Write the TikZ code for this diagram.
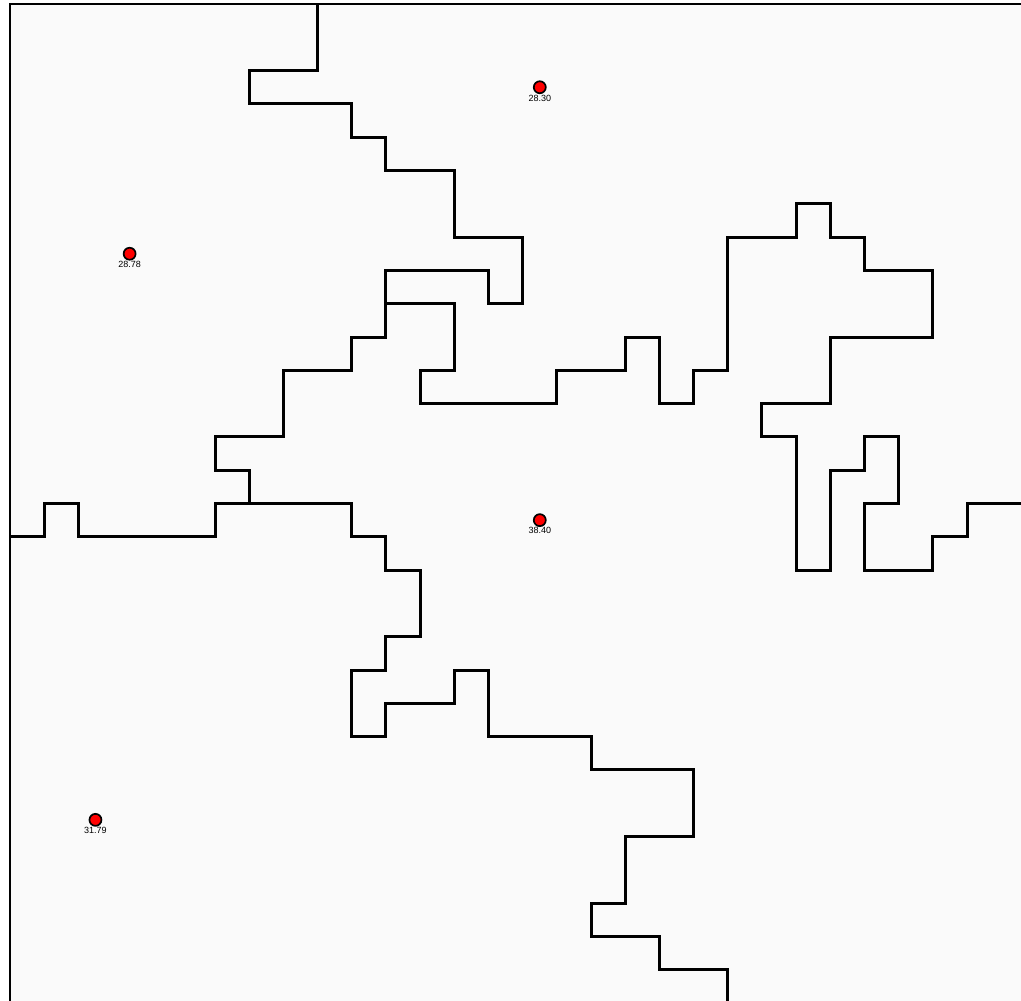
\documentclass[tikz,border=0pt]{standalone}
\usepackage{fontspec}
\newfontfamily\lblfont{Liberation Sans}
\usetikzlibrary{positioning}
\definecolor{bgGray}{RGB}{250,250,250}
\definecolor{siteRed}{RGB}{255,0,0}

\begin{document}
\begin{tikzpicture}[
    x=34.18pt, y=-33.3pt,
    wall/.style={line width=3pt, black, line join=miter},
    frame/.style={line width=2.4pt, black},
    site/.style={circle, fill=siteRed, draw=black, line width=1.7pt, inner sep=0pt, minimum size=12pt},
    lbl/.style={font=\lblfont\fontsize{9}{10}\selectfont, inner sep=0pt},
]
\useasboundingbox (-10pt,4pt) rectangle (1011pt,-997pt);
\fill[white] (-10pt,4pt) rectangle (1011pt,-997pt);
\clip (-10pt,4pt) rectangle (1011pt,-997pt);
\fill[bgGray] (0,0) rectangle (30,30);
\draw[frame] (0,0) rectangle (30,30);
\draw[wall] (9,0) -- (9,2) -- (7,2) -- (7,3) -- (10,3) -- (10,4) -- (11,4) -- (11,5)
  -- (13,5) -- (13,7) -- (15,7) -- (15,9) -- (14,9) -- (14,8) -- (11,8) -- (11,10)
  -- (10,10) -- (10,11) -- (8,11) -- (8,13) -- (6,13) -- (6,14) -- (7,14) -- (7,15);
\draw[wall] (0,16) -- (1,16) -- (1,15) -- (2,15) -- (2,16) -- (6,16) -- (6,15) -- (10,15)
  -- (10,16) -- (11,16) -- (11,17) -- (12,17) -- (12,19) -- (11,19) -- (11,20) -- (10,20)
  -- (10,22) -- (11,22) -- (11,21) -- (13,21) -- (13,20) -- (14,20) -- (14,22) -- (17,22)
  -- (17,23) -- (20,23) -- (20,25) -- (18,25) -- (18,27) -- (17,27) -- (17,28) -- (19,28)
  -- (19,29) -- (21,29) -- (21,30);
\draw[wall] (11,9) -- (13,9) -- (13,11) -- (12,11) -- (12,12) -- (16,12) -- (16,11) -- (18,11)
  -- (18,10) -- (19,10) -- (19,12) -- (20,12) -- (20,11) -- (21,11) -- (21,7) -- (23,7)
  -- (23,6) -- (24,6) -- (24,7) -- (25,7) -- (25,8) -- (27,8) -- (27,10) -- (24,10)
  -- (24,12) -- (22,12) -- (22,13) -- (23,13) -- (23,17) -- (24,17) -- (24,14) -- (25,14)
  -- (25,13) -- (26,13) -- (26,15) -- (25,15) -- (25,17) -- (27,17) -- (27,16) -- (28,16)
  -- (28,15) -- (30,15);
\foreach \x/\y/\v [count=\i] in {15.5/2.5/28.30, 3.5/7.5/28.78, 15.5/15.5/38.40, 2.5/24.5/31.79} {
  \node[site] (s\i) at (\x,\y) {};
  \node[lbl, below=0.5pt of s\i] (l\i) {\v};
}
\end{tikzpicture}
\end{document}
